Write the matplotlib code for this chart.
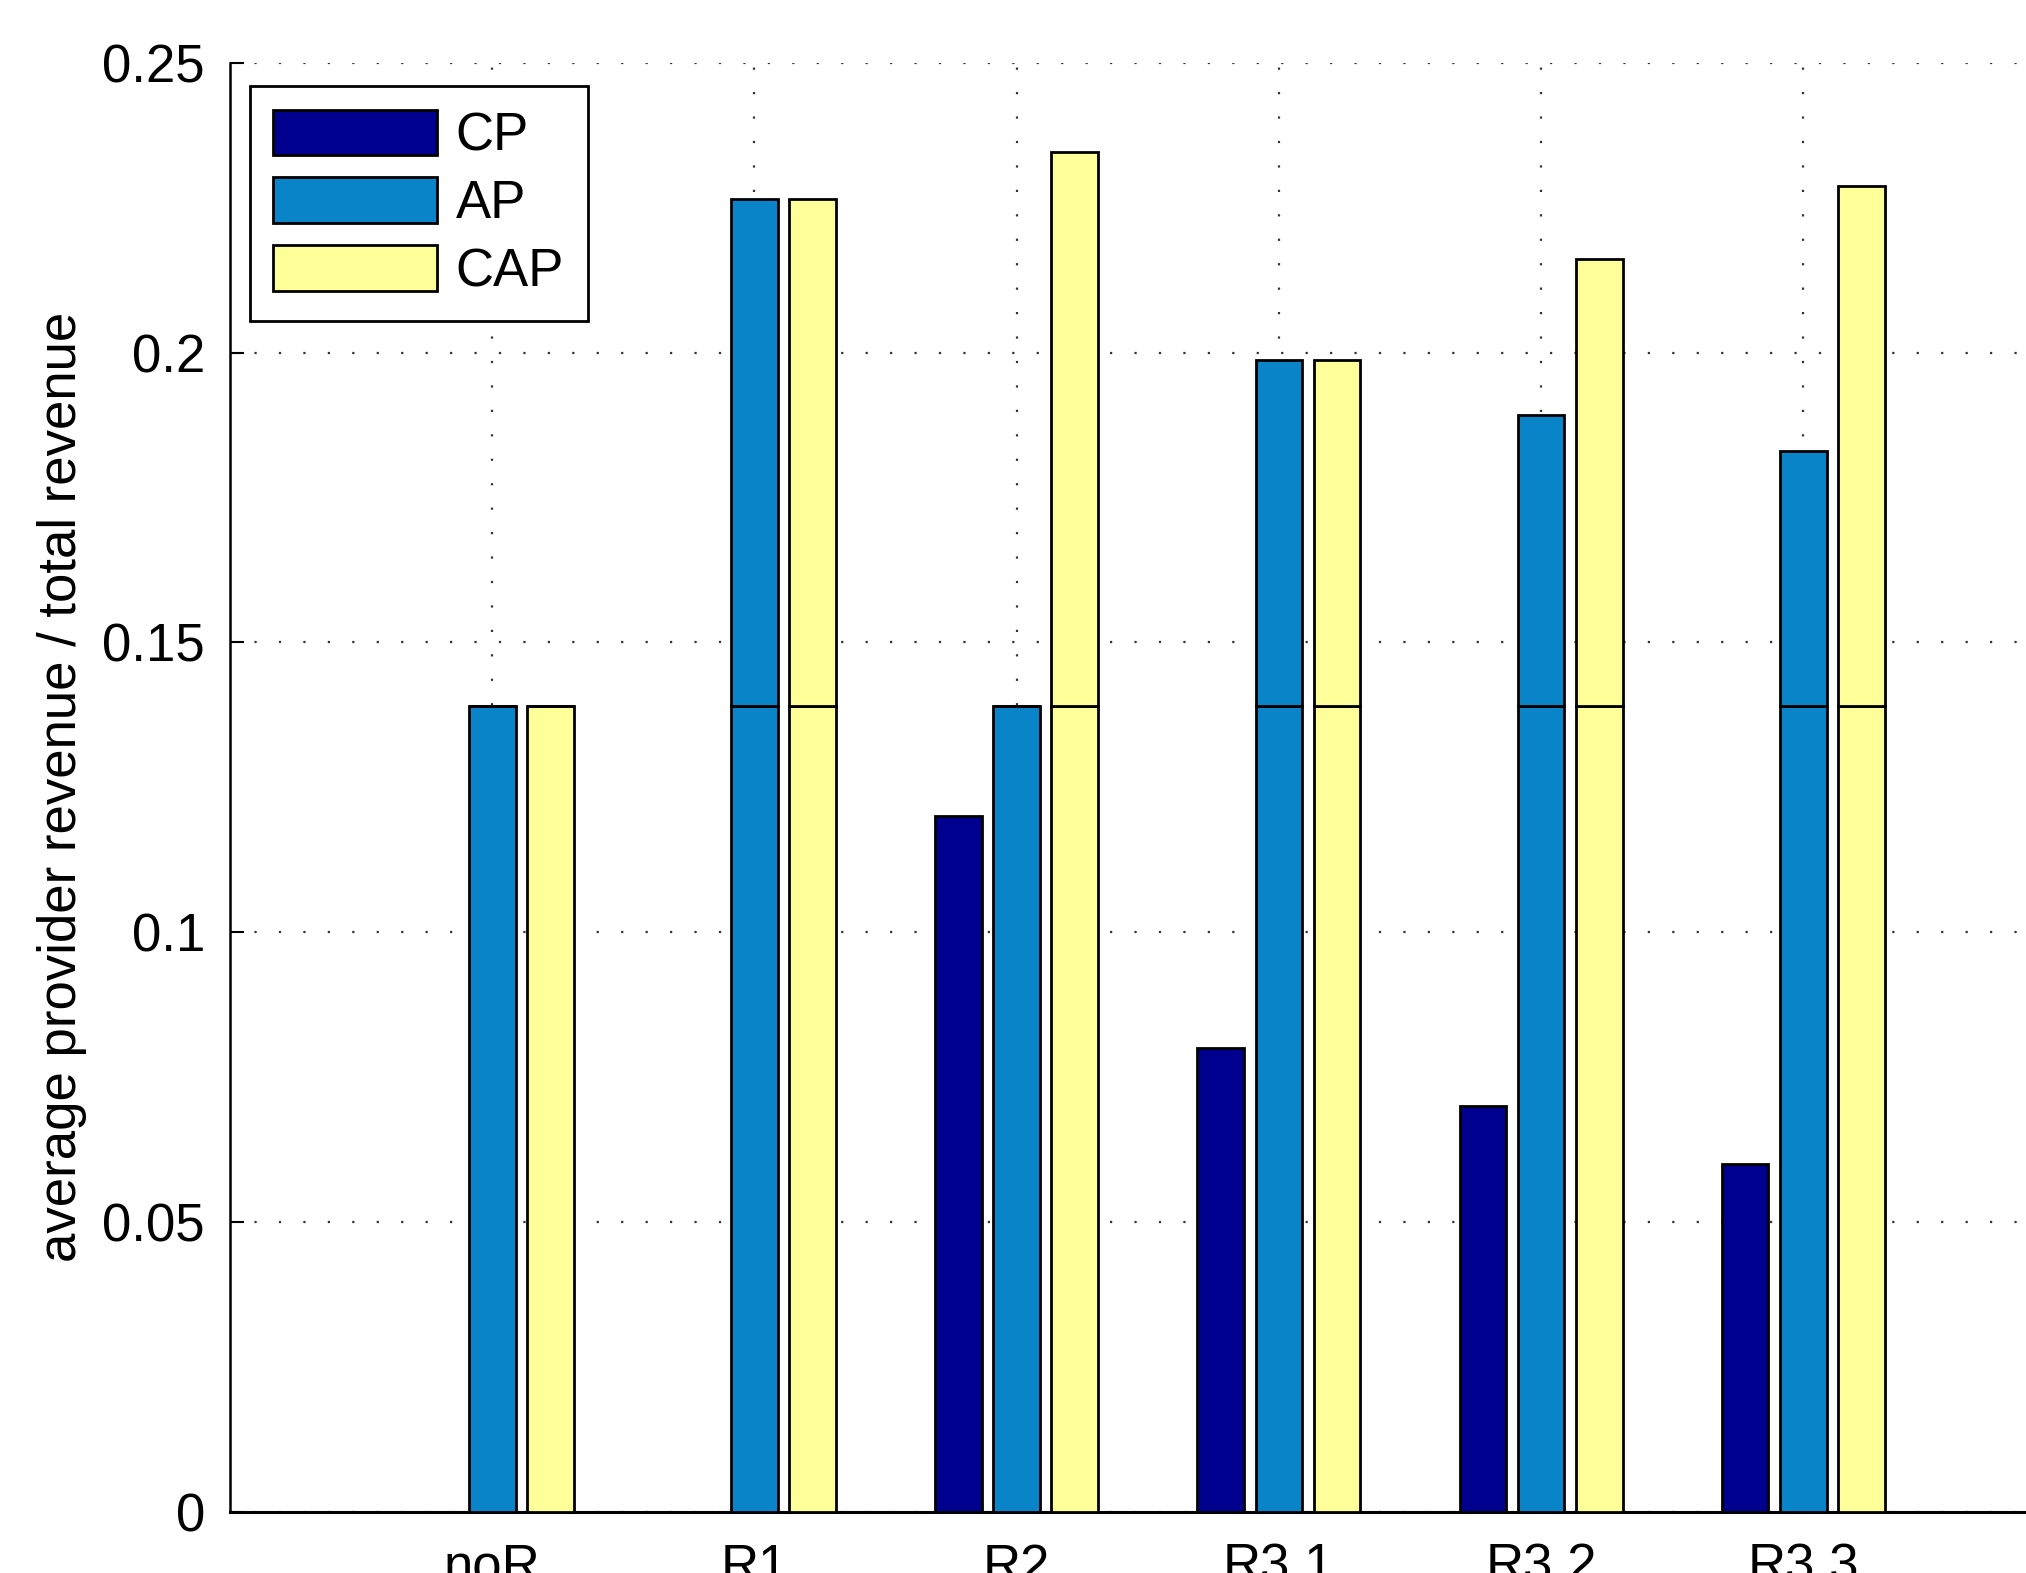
import numpy as np
import matplotlib.pyplot as plt

plt.rcParams['font.family'] = ['Liberation Sans', 'DejaVu Sans']

categories = ["noR", "R1", "R2", "R3.1", "R3.2", "R3.3"]
cp = [0.0, 0.0, 0.12, 0.08, 0.07, 0.06]
ap_total = [0.139, 0.2265, 0.139, 0.1987, 0.1893, 0.1831]
cap_total = [0.139, 0.2265, 0.2346, 0.1987, 0.2161, 0.2288]
base = 0.139

c_cp = "#00008f"
c_ap = "#0a84c8"
c_cap = "#ffff99"

x = np.arange(1, len(categories) + 1)
off = 0.222
w = 0.178
fs = 38

fig = plt.figure(figsize=(20.26, 15.73), dpi=100)
ax = fig.add_axes([0.1135, 0.0388, 0.906, 0.9213])

ap_base = np.minimum(ap_total, base)
cap_base = np.minimum(cap_total, base)
ap_top = np.array(ap_total) - ap_base
cap_top = np.array(cap_total) - cap_base

kw = dict(width=w, edgecolor="black", linewidth=2.0, zorder=3)
ax.bar(x - off, cp, color=c_cp, label="CP", **kw)
ax.bar(x, ap_base, color=c_ap, label="AP", **kw)
ax.bar(x, ap_top, bottom=ap_base, color=c_ap, **kw)
ax.bar(x + off, cap_base, color=c_cap, label="CAP", **kw)
ax.bar(x + off, cap_top, bottom=cap_base, color=c_cap, **kw)

ax.set_xlim(0, 7)
ax.set_ylim(0, 0.25)
ax.set_xticks(x)
ax.set_xticklabels(categories)
ax.set_yticks([0, 0.05, 0.1, 0.15, 0.2, 0.25])
ax.set_yticklabels(["0", "0.05", "0.1", "0.15", "0.2", "0.25"])
ax.tick_params(axis="both", direction="in", length=10, width=1.5,
               labelsize=fs, pad=18)
ax.tick_params(axis="x", pad=22)

ax.grid(True, color="#333333", linestyle=(0, (1, 10)), linewidth=1.6, zorder=0)
ax.set_axisbelow(True)

for s in ["top", "right"]:
    ax.spines[s].set_visible(False)
ax.spines["left"].set_linewidth(1.8)
ax.spines["bottom"].set_linewidth(2.2)

ax.set_ylabel("average provider revenue / total revenue", fontsize=fs, labelpad=11)

leg = ax.legend(loc="upper left", bbox_to_anchor=(0.0107, 0.984), fontsize=fs,
                fancybox=False, edgecolor="black", framealpha=1,
                handlelength=3.1, handleheight=0.95, handletextpad=0.35,
                labelspacing=0.3, borderpad=0.45, borderaxespad=0)
leg.get_frame().set_linewidth(2.0)

fig.savefig("out.png", dpi=100)
